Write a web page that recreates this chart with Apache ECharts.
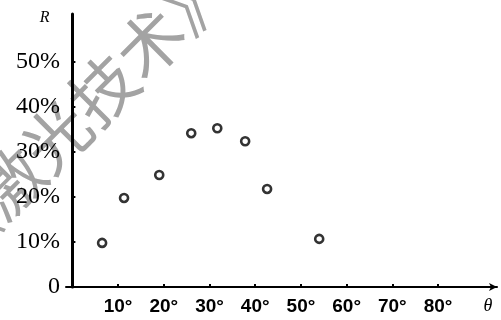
<!DOCTYPE html>
<html>
<head>
<meta charset="utf-8">
<script src="https://cdn.jsdelivr.net/npm/echarts@6/dist/echarts.min.js"></script>
<style>
  html, body { margin: 0; padding: 0; background: #fff; }
  #chart { width: 501px; height: 320px; }
</style>
</head>
<body>
<div id="chart"></div>
<script>
// angle of incidence (deg) and R (%)
var theta = [6.5, 11.3, 19, 26, 31.7, 37.8, 42.6, 54];
var rValues = [9.8, 19.8, 24.9, 34.2, 35.3, 32.4, 21.8, 10.7];
var xTicks = [10, 20, 30, 40, 50, 60, 70, 80];
var yTicks = [0, 10, 20, 30, 40, 50];

var points = [];
for (var i = 0; i < theta.length; i++) {
  points.push([theta[i], rValues[i]]);
}

var chart = echarts.init(document.getElementById("chart"));
var option = {
  backgroundColor: "#fff",
  animation: false,
  grid: { left: 66, right: 4, top: 14, bottom: 33 },
  graphic: [
    {
      type: "text",
      x: 80,
      y: 113,
      rotation: Math.PI / 4,
      z: -10,
      silent: true,
      style: {
        text: "《激光技术》",
        fill: "#a3a3a3",
        font: "66px 'Noto Sans CJK SC'",
        align: "center",
        verticalAlign: "middle"
      }
    }
  ],
  xAxis: {
    type: "value",
    min: -1.4,
    max: 92.9,
    name: "θ",
    nameLocation: "end",
    nameGap: -9,
    nameTextStyle: {
      fontFamily: "Liberation Serif",
      fontStyle: "italic",
      fontSize: 18,
      color: "#000",
      align: "center",
      verticalAlign: "top",
      padding: [10, 0, 0, 0]
    },
    splitLine: { show: false },
    axisLine: {
      lineStyle: { color: "#000", width: 2 },
      symbol: ["none", "arrow"],
      symbolSize: [6, 8]
    },
    axisTick: {
      inside: true,
      length: 3,
      customValues: xTicks,
      lineStyle: { color: "#000", width: 2 }
    },
    axisLabel: {
      customValues: xTicks,
      margin: 10,
      color: "#000",
      fontFamily: "Liberation Sans",
      fontWeight: "bold",
      fontSize: 19,
      formatter: function (v) { return v + "°"; }
    }
  },
  yAxis: {
    type: "value",
    min: 0,
    max: 60.7,
    name: "R",
    nameLocation: "end",
    nameGap: -4,
    nameTextStyle: {
      fontFamily: "Liberation Serif",
      fontStyle: "italic",
      fontSize: 16,
      color: "#000",
      align: "right",
      verticalAlign: "middle",
      padding: [0, 23, 0, 0]
    },
    splitLine: { show: false },
    axisLine: {
      lineStyle: { color: "#000", width: 3 }
    },
    axisTick: {
      inside: true,
      length: 3,
      customValues: yTicks,
      lineStyle: { color: "#000", width: 2 }
    },
    axisLabel: {
      customValues: yTicks,
      margin: 6,
      color: "#000",
      fontFamily: "Liberation Serif",
      fontSize: 24,
      formatter: function (v) { return v === 0 ? "0" : v + "%"; }
    }
  },
  series: [
    {
      type: "scatter",
      data: points,
      symbol: "circle",
      symbolSize: 8,
      itemStyle: { color: "#fff", borderColor: "#000", borderWidth: 2.6 }
    }
  ]
};
chart.setOption(option);
</script>
</body>
</html>
